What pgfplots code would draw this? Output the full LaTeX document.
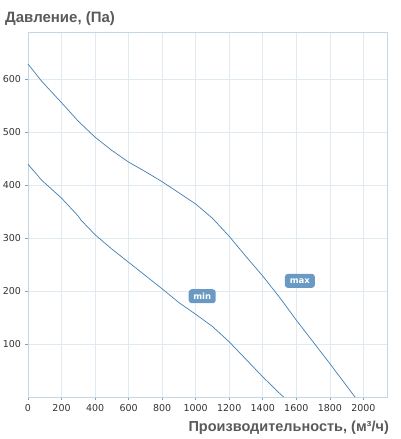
\documentclass[border=0pt]{standalone}
\usepackage{pgfplots}
\pgfplotsset{compat=1.18}
\usepackage{fontspec}
\setmainfont{DejaVu Sans}
\newfontfamily\lib{Liberation Sans}
\definecolor{gridc}{HTML}{E0EBF1}
\definecolor{axc}{HTML}{C3D6E2}
\definecolor{linec}{HTML}{3F7FB5}
\definecolor{boxc}{HTML}{6A9AC4}
\definecolor{txtc}{HTML}{5A5A5A}
\definecolor{tickc}{HTML}{333333}
\begin{document}
\begin{tikzpicture}
\path[use as bounding box] (0,0) rectangle (401pt,439pt);
\begin{axis}[
  at={(28pt,42pt)}, anchor=south west,
  scale only axis, width=359.7pt, height=364.3pt,
  xmin=0, xmax=2145, ymin=0, ymax=687,
  xtick={0,200,...,2000}, ytick={100,200,...,600},
  grid=major, major grid style={gridc, line width=0.6pt},
  axis line style={axc, line width=0.8pt},
  tick align=outside, major tick length=3pt,
  tick style={linec!70, line width=0.6pt},
  xtick pos=bottom, ytick pos=left,
  /pgf/number format/assume math mode=true,
  /pgf/number format/1000 sep={},
  tick label style={font=\fontsize{9.5}{10}\selectfont, text=tickc},
  xticklabel style={yshift=-1pt},
  yticklabel style={xshift=-0.5pt},
  clip=false,
]
\addplot[linec, line width=0.7pt] coordinates {
(0,628) (80,596) (200,555) (300,520) (400,490) (500,465) (600,443) (700,425)
(800,406) (900,385) (1000,364) (1100,337) (1200,303) (1300,265) (1400,228)
(1500,188) (1600,145) (1700,104) (1800,63) (1900,21) (1950,0)};
\addplot[linec, line width=0.7pt] coordinates {
(0,439) (81,409) (200,375) (300,341) (315,334) (400,306) (500,279) (600,254)
(700,229) (800,204) (900,178) (1000,156) (1100,133) (1200,104) (1300,71)
(1400,38) (1500,7) (1524,0)};
\node[fill=boxc, rounded corners=3pt, text=white, minimum width=27pt, minimum height=14pt, inner sep=1pt, font=\fontsize{8.5}{9}\selectfont\bfseries] at (axis cs:1039,190) {min};
\node[fill=boxc, rounded corners=3pt, text=white, minimum width=30pt, minimum height=14pt, inner sep=1pt, font=\fontsize{8.5}{9}\selectfont\bfseries] at (axis cs:1621,219) {max};
\end{axis}
\node[anchor=base west, inner sep=0pt, text=txtc, font=\lib\bfseries\fontsize{15}{16}\selectfont] at (5pt,416.5pt) {Давление, (Па)};
\node[anchor=base east, inner sep=0pt, text=txtc, font=\lib\bfseries\fontsize{14.5}{16}\selectfont] at (389pt,7pt) {Производительность, (м³/ч)};
\end{tikzpicture}
\end{document}
